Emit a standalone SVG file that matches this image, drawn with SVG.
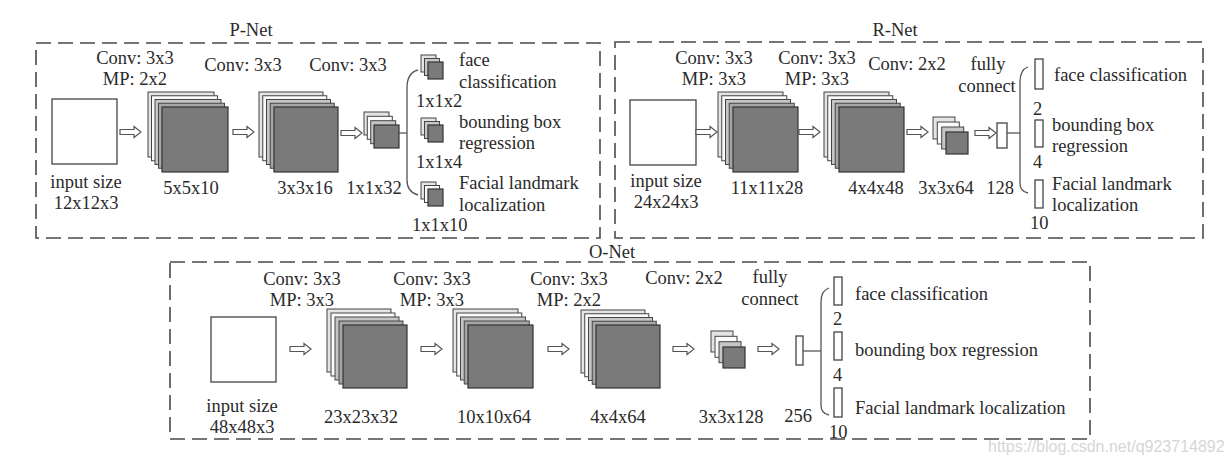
<svg xmlns="http://www.w3.org/2000/svg" xmlns:xlink="http://www.w3.org/1999/xlink" width="1232" height="466" viewBox="0 0 1232 466">
<style>
text{font-family:"Liberation Serif","Times New Roman",serif;font-size:18.5px;fill:#2a2a2a}
.c{text-anchor:middle}
.frame{fill:none;stroke:#4a4a4a;stroke-width:1.6;stroke-dasharray:15 7}
.sq{fill:#fff;stroke:#444;stroke-width:1.3}
.l1{fill:#e4e4e4;stroke:#444;stroke-width:1}
.l2{fill:#fafafa;stroke:#444;stroke-width:1}
.l3{fill:#c6c6c6;stroke:#444;stroke-width:1}
.l4{fill:#a6a6a6;stroke:#444;stroke-width:1}
.l5{fill:#7a7a7a;stroke:#333;stroke-width:1.2}
.fc{fill:#fff;stroke:#444;stroke-width:1.3}
.br{fill:none;stroke:#555;stroke-width:1.3}
.arrow{fill:#fff;stroke:#555;stroke-width:1.2}
.wm{font-family:"Liberation Sans",Arial,sans-serif;font-size:16px;fill:#d6d6d6}
</style>
<defs>
<path id="arr" class="arrow" d="M0,-2.5 H14 V-5.5 L21,0 L14,5.5 V2.5 H0 Z"/>
</defs>
<rect width="1232" height="466" fill="#fff"/>

<!-- frames -->
<g id="frames">
<rect class="frame" x="36" y="43" width="564" height="195"/>
<text class="c" x="251" y="36">P-Net</text>
<rect class="frame" x="615" y="42" width="588" height="196"/>
<text class="c" x="895" y="36">R-Net</text>
<rect class="frame" x="170" y="262" width="920" height="177"/>
<text class="c" x="612" y="258">O-Net</text>
</g>

<!-- P-Net -->
<g id="pnet-input">
<rect class="sq" x="52" y="99" width="65" height="65"/>
<text class="c" x="86" y="188">input size</text>
<text class="c" x="86" y="209">12x12x3</text>
</g>
<g id="pnet-conv1">
<text class="c" x="135" y="64">Conv: 3x3</text>
<text class="c" x="135" y="85">MP: 2x2</text>
<rect class="l1" x="148" y="92" width="66" height="65"/>
<rect class="l2" x="151.5" y="95.75" width="66" height="65"/>
<rect class="l3" x="155" y="99.5" width="66" height="65"/>
<rect class="l4" x="158.5" y="103.25" width="66" height="65"/>
<rect class="l5" x="162" y="107" width="66" height="65"/>
<text class="c" x="191" y="194">5x5x10</text>
</g>
<g id="pnet-conv2">
<text class="c" x="243" y="71">Conv: 3x3</text>
<rect class="l1" x="259" y="92" width="64" height="65"/>
<rect class="l2" x="262.75" y="95.75" width="64" height="65"/>
<rect class="l3" x="266.5" y="99.5" width="64" height="65"/>
<rect class="l4" x="270.25" y="103.25" width="64" height="65"/>
<rect class="l5" x="274" y="107" width="64" height="65"/>
<text class="c" x="305" y="194">3x3x16</text>
</g>
<g id="pnet-conv3">
<text class="c" x="348" y="71">Conv: 3x3</text>
<rect class="l1" x="364" y="112" width="25" height="23"/>
<rect class="l2" x="367.3" y="116.3" width="25" height="23"/>
<rect class="l3" x="370.7" y="120.7" width="25" height="23"/>
<rect class="l5" x="374" y="125" width="25" height="23"/>
<text class="c" x="374" y="194">1x1x32</text>
</g>
<g id="pnet-out-face">
<rect class="l1" x="421" y="55" width="15" height="17"/>
<rect class="l3" x="424.5" y="58.5" width="15" height="17"/>
<rect class="l5" x="428" y="62" width="15" height="17"/>
<text x="459" y="66">face</text>
<text x="459" y="88">classification</text>
<text x="416" y="107">1x1x2</text>
</g>
<g id="pnet-out-bbox">
<rect class="l1" x="421" y="118" width="15" height="17"/>
<rect class="l3" x="424.5" y="121.5" width="15" height="17"/>
<rect class="l5" x="428" y="125" width="15" height="17"/>
<text x="459" y="128">bounding box</text>
<text x="459" y="149">regression</text>
<text x="416" y="168">1x1x4</text>
</g>
<g id="pnet-out-landmark">
<rect class="l1" x="421" y="182" width="15" height="17"/>
<rect class="l2" x="424.5" y="185.5" width="15" height="17"/>
<rect class="l5" x="428" y="189" width="15" height="17"/>
<text x="459" y="189">Facial landmark</text>
<text x="459" y="211">localization</text>
<text x="412" y="231">1x1x10</text>
</g>

<!-- R-Net -->
<g id="rnet-input">
<rect class="sq" x="630" y="100" width="66" height="65"/>
<text class="c" x="666" y="187">input size</text>
<text class="c" x="666" y="208">24x24x3</text>
</g>
<g id="rnet-conv1">
<text class="c" x="714" y="64">Conv: 3x3</text>
<text class="c" x="714" y="85">MP: 3x3</text>
<rect class="l1" x="718" y="92" width="65" height="65"/>
<rect class="l2" x="721.75" y="95.75" width="65" height="65"/>
<rect class="l3" x="725.5" y="99.5" width="65" height="65"/>
<rect class="l4" x="729.25" y="103.25" width="65" height="65"/>
<rect class="l5" x="733" y="107" width="65" height="65"/>
<text class="c" x="767" y="194">11x11x28</text>
</g>
<g id="rnet-conv2">
<text class="c" x="817" y="64">Conv: 3x3</text>
<text class="c" x="817" y="85">MP: 3x3</text>
<rect class="l1" x="824" y="92" width="65" height="65"/>
<rect class="l2" x="827.75" y="95.75" width="65" height="65"/>
<rect class="l3" x="831.5" y="99.5" width="65" height="65"/>
<rect class="l4" x="835.25" y="103.25" width="65" height="65"/>
<rect class="l5" x="839" y="107" width="65" height="65"/>
<text class="c" x="876" y="194">4x4x48</text>
</g>
<g id="rnet-conv3">
<text class="c" x="907" y="70">Conv: 2x2</text>
<rect class="l1" x="933" y="117" width="22" height="22"/>
<rect class="l2" x="937.3" y="122" width="22" height="22"/>
<rect class="l3" x="941.7" y="127" width="22" height="22"/>
<rect class="l5" x="946" y="132" width="22" height="22"/>
<text class="c" x="946" y="194">3x3x64</text>
</g>
<g id="rnet-fc">
<text class="c" x="988" y="70">fully</text>
<text class="c" x="987" y="92">connect</text>
<rect class="fc" x="997" y="123" width="10" height="25"/>
<text class="c" x="1000" y="194">128</text>
</g>
<g id="rnet-out-face">
<rect class="fc" x="1035" y="59" width="8" height="30"/>
<text x="1054" y="81">face classification</text>
<text x="1033" y="115">2</text>
</g>
<g id="rnet-out-bbox">
<rect class="fc" x="1035" y="120" width="8" height="27"/>
<text x="1052" y="131">bounding box</text>
<text x="1052" y="152">regression</text>
<text x="1033" y="168">4</text>
</g>
<g id="rnet-out-landmark">
<rect class="fc" x="1035" y="180" width="8" height="28"/>
<text x="1052" y="190">Facial landmark</text>
<text x="1052" y="211">localization</text>
<text x="1030" y="229">10</text>
</g>

<!-- O-Net -->
<g id="onet-input">
<rect class="sq" x="211" y="317" width="65" height="65"/>
<text class="c" x="242" y="412">input size</text>
<text class="c" x="242" y="433">48x48x3</text>
</g>
<g id="onet-conv1">
<text class="c" x="302" y="285">Conv: 3x3</text>
<text class="c" x="302" y="306">MP: 3x3</text>
<rect class="l1" x="327" y="309" width="64" height="63"/>
<rect class="l2" x="331" y="313" width="64" height="63"/>
<rect class="l3" x="335" y="317" width="64" height="63"/>
<rect class="l4" x="339" y="321" width="64" height="63"/>
<rect class="l5" x="343" y="325" width="64" height="63"/>
<text class="c" x="361" y="423">23x23x32</text>
</g>
<g id="onet-conv2">
<text class="c" x="432" y="285">Conv: 3x3</text>
<text class="c" x="432" y="306">MP: 3x3</text>
<rect class="l1" x="453" y="309" width="65" height="63"/>
<rect class="l2" x="456.75" y="313" width="65" height="63"/>
<rect class="l3" x="460.5" y="317" width="65" height="63"/>
<rect class="l4" x="464.25" y="321" width="65" height="63"/>
<rect class="l5" x="468" y="325" width="65" height="63"/>
<text class="c" x="494" y="423">10x10x64</text>
</g>
<g id="onet-conv3">
<text class="c" x="569" y="285">Conv: 3x3</text>
<text class="c" x="569" y="306">MP: 2x2</text>
<rect class="l1" x="581" y="310" width="64" height="63"/>
<rect class="l2" x="584.75" y="313.75" width="64" height="63"/>
<rect class="l3" x="588.5" y="317.5" width="64" height="63"/>
<rect class="l4" x="592.25" y="321.25" width="64" height="63"/>
<rect class="l5" x="596" y="325" width="64" height="63"/>
<text class="c" x="618" y="423">4x4x64</text>
</g>
<g id="onet-conv4">
<text class="c" x="684" y="284">Conv: 2x2</text>
<rect class="l1" x="711" y="331" width="22" height="21"/>
<rect class="l2" x="715" y="336.3" width="22" height="21"/>
<rect class="l3" x="719" y="341.7" width="22" height="21"/>
<rect class="l5" x="723" y="347" width="22" height="21"/>
<text class="c" x="731" y="423">3x3x128</text>
</g>
<g id="onet-fc">
<text class="c" x="770" y="283">fully</text>
<text class="c" x="770" y="305">connect</text>
<rect class="fc" x="796" y="336" width="7" height="29"/>
<text class="c" x="798" y="422">256</text>
</g>
<g id="onet-out-face">
<rect class="fc" x="834" y="277" width="8" height="28"/>
<text x="855" y="300">face classification</text>
<text x="833" y="325">2</text>
</g>
<g id="onet-out-bbox">
<rect class="fc" x="834" y="332" width="8" height="28"/>
<text x="855" y="356">bounding box regression</text>
<text x="833" y="381">4</text>
</g>
<g id="onet-out-landmark">
<rect class="fc" x="834" y="388" width="8" height="29"/>
<text x="855" y="414">Facial landmark localization</text>
<text x="829" y="438">10</text>
</g>

<!-- connectors -->
<g id="connectors">
<use xlink:href="#arr" transform="translate(120,132)"/>
<use xlink:href="#arr" transform="translate(233,132)"/>
<use xlink:href="#arr" transform="translate(341,133)"/>
<path class="br" d="M399,133 H407"/>
<path class="br" d="M418,70 C410,72 407,78 407,88 V180 C407,188 410,193 418,195"/>

<use xlink:href="#arr" transform="translate(696,132)"/>
<use xlink:href="#arr" transform="translate(799,132)"/>
<use xlink:href="#arr" transform="translate(907,132)"/>
<use xlink:href="#arr" transform="translate(975,133)"/>
<path class="br" d="M1007,133 H1020"/>
<path class="br" d="M1028,67 C1022,69 1020,74 1020,82 V183 C1020,189 1022,192 1028,193"/>

<use xlink:href="#arr" transform="translate(290,349)"/>
<use xlink:href="#arr" transform="translate(421,349)"/>
<use xlink:href="#arr" transform="translate(548,349)"/>
<use xlink:href="#arr" transform="translate(673,349)"/>
<use xlink:href="#arr" transform="translate(758,349)"/>
<path class="br" d="M803,351 H821"/>
<path class="br" d="M829,288 C823,290 821,295 821,302 V405 C821,411 823,414 829,415"/>
</g>

<text class="wm" x="988" y="452">https://blog.csdn.net/q923714892</text>
</svg>
